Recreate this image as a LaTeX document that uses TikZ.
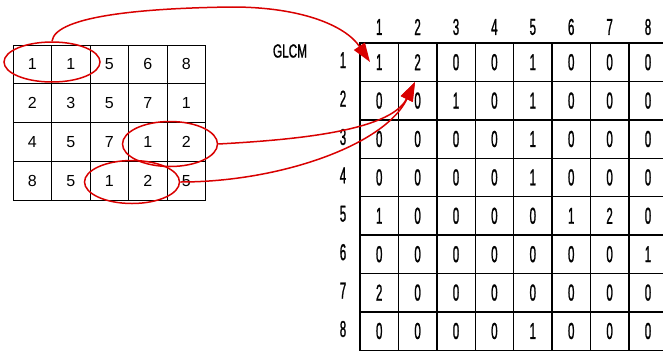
\documentclass[tikz,border=0pt]{standalone}
\usepackage{fontspec}
\setmainfont{Liberation Sans}
\newfontfamily\condfont[FakeStretch=0.5,FakeBold=1]{Liberation Sans}
\newfontfamily\titlefont[FakeStretch=0.62,FakeBold=1]{Liberation Sans}
\usetikzlibrary{shapes.geometric,arrows.meta}
\begin{document}
\begin{tikzpicture}[x=1pt,y=-1pt,
  lcell/.style={draw=black,line width=1pt,minimum width=38.5pt,minimum height=38.8pt,inner sep=0pt,anchor=center,font=\fontsize{16}{16}\selectfont},
  gcell/.style={draw=black,line width=1.4pt,minimum width=38.4pt,minimum height=38.4pt,inner sep=0pt,anchor=center,font=\condfont\fontsize{23}{23}\selectfont},
  glabel/.style={inner sep=0pt,anchor=center,font=\condfont\fontsize{23}{23}\selectfont},
  ring/.style={ellipse,draw=red!85!black,line width=1.5pt,inner sep=0pt},
  redarrow/.style={draw=red!85!black,line width=1.5pt,-{Triangle[length=19pt,width=13pt]}}]
\useasboundingbox (0,0) rectangle (663,354);
\clip (0,0) rectangle (663,354);
\fill[white] (0,0) rectangle (663,354);
% left image matrix
\foreach \vals [count=\r] in {{1,1,5,6,8},{2,3,5,7,1},{4,5,7,1,2},{8,5,1,2,5}}{
  \foreach \v [count=\c] in \vals {
    \node[lcell] (L-\r-\c) at ({13+38.5*(\c-0.5)},{45+38.8*(\r-0.5)}) {\v};
  }
}
% GLCM label
\node[inner sep=0pt,font=\titlefont\fontsize{19}{19}\selectfont] (title) at (290,51) {GLCM};
% GLCM matrix
\foreach \vals [count=\r] in {{1,2,0,0,1,0,0,0},{0,0,1,0,1,0,0,0},{0,0,0,0,1,0,0,0},{0,0,0,0,1,0,0,0},{1,0,0,0,0,1,2,0},{0,0,0,0,0,0,0,1},{2,0,0,0,0,0,0,0},{0,0,0,0,1,0,0,0}}{
  \foreach \v [count=\c] in \vals {
    \node[gcell] (G-\r-\c) at ({360+38.4*(\c-0.5)},{43+38.4*(\r-0.5)}) {\v};
  }
  \node[glabel] (R-\r) at (343,{41+38.4*(\r-0.5)}) {\r};
  \node[glabel] (C-\r) at ({360+38.4*(\r-0.5)},27) {\r};
}
% ellipses
\node[ring,minimum width=96pt,minimum height=40pt] (e1) at (52,62) {};
\node[ring,minimum width=95pt,minimum height=45pt] (e2) at (170,144) {};
\node[ring,minimum width=95pt,minimum height=43pt] (e3) at (132,182) {};
% arrows
\coordinate (peak) at (232,7);
\coordinate (tip1) at (370,62);
\coordinate (tip2) at (415,82);
\draw[draw=red!85!black,line width=1.5pt] (e1.north) .. controls (55,15) and (150,8) .. (peak);
\draw[redarrow] (peak) .. controls (300,7) and (345,25) .. (tip1);
\draw[redarrow] (e2.east) .. controls (290,140) and (390,132) .. (tip2);
\draw[redarrow] (e3.east) .. controls (280,182) and (385,145) .. (tip2);
\end{tikzpicture}
\end{document}
